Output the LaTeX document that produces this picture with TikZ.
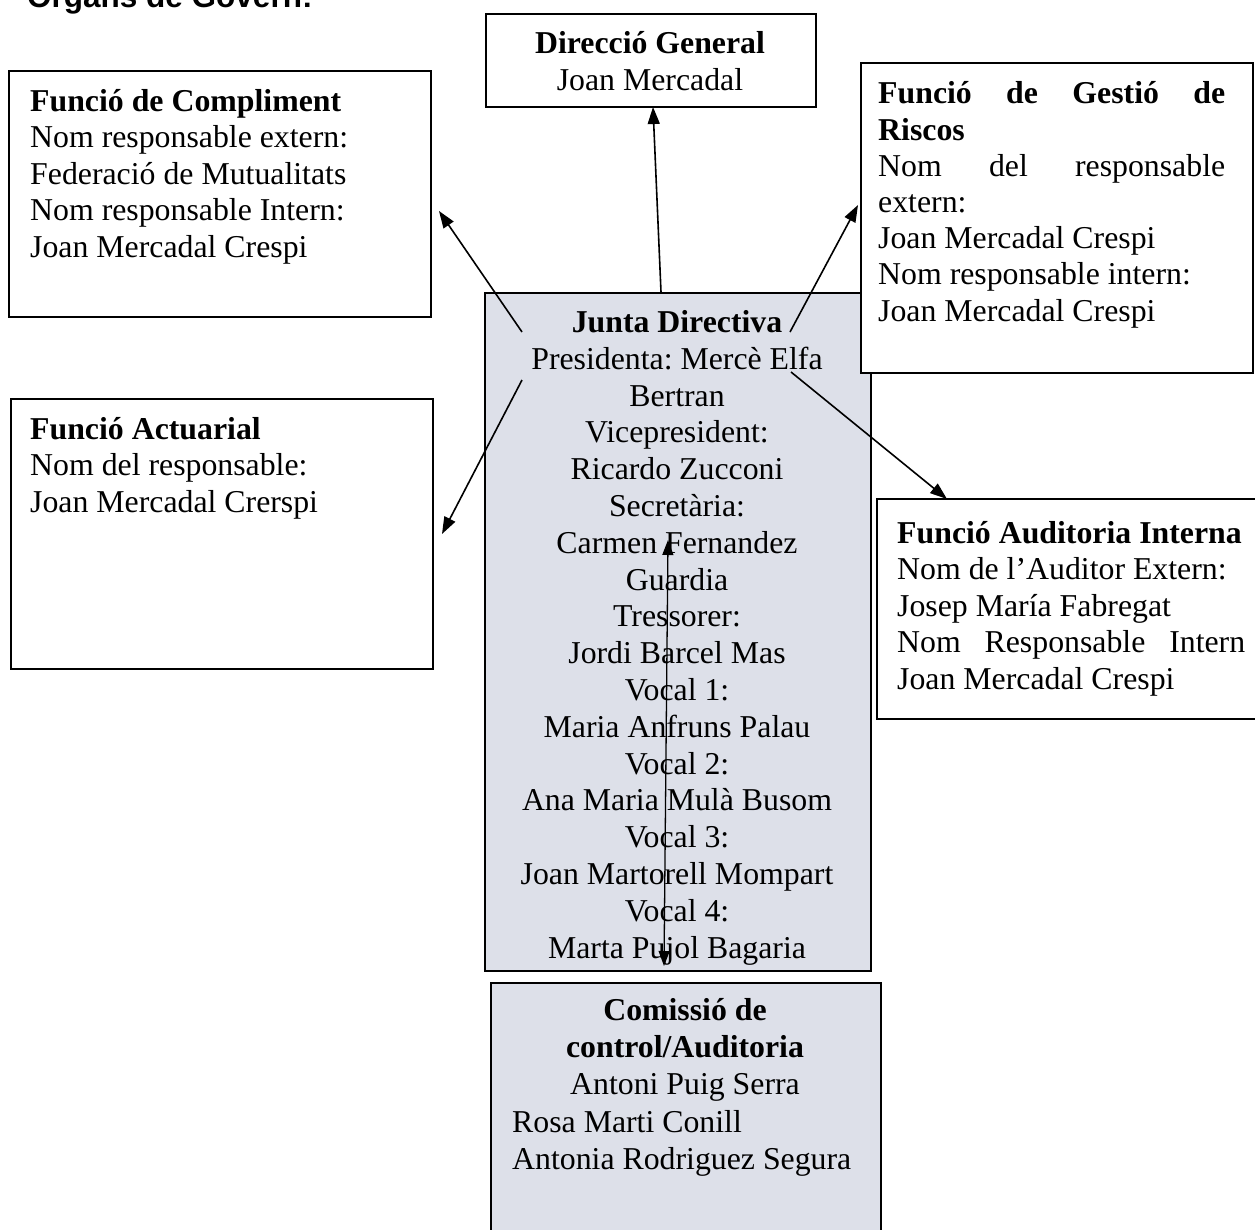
\documentclass[tikz,border=0pt]{standalone}
\usepackage{fontspec}
\setmainfont{Liberation Serif}
\newfontfamily\titlefont{Liberation Sans}
\usetikzlibrary{arrows.meta}
\definecolor{jfill}{RGB}{221,224,233}
\frenchspacing
\begin{document}
\begin{tikzpicture}[x=1pt,y=-1pt,
  box/.style={draw=black, line width=2pt, fill=white, inner sep=0pt, anchor=north west},
  gbox/.style={box, fill=jfill},
  txt/.style={inner sep=0pt, align=left, anchor=base west, font=\fontsize{31.8}{36.4}\selectfont},
  ctxt/.style={inner sep=0pt, align=center, anchor=base, font=\fontsize{31.8}{36.8}\selectfont},
  arr/.style={line width=1.6pt, -{Triangle[length=17pt,width=12pt]}},
  darr/.style={line width=1.3pt, {Triangle[length=15pt,width=11pt]}-{Triangle[length=15pt,width=11pt]}}]
\useasboundingbox (0,0) rectangle (1255,1229);
\fill[white] (0,0) rectangle (1255,1229);

% title (cut at top)
\node[inner sep=0pt, anchor=base west, font=\titlefont\bfseries\fontsize{31.5}{36}\selectfont] (title) at (27,7) {Òrgans de Govern:};

% boxes
\node[box, minimum width=330pt, minimum height=93pt] (dir) at (485,13) {};
\node[box, minimum width=422pt, minimum height=246pt] (compl) at (8,70) {};
\node[box, minimum width=422pt, minimum height=270pt] (act) at (10,398) {};
\node[gbox, minimum width=386pt, minimum height=678pt] (junta) at (484,292) {};
\node[box, minimum width=392pt, minimum height=310pt] (risc) at (860,62) {};
\node[box, minimum width=400pt, minimum height=220pt] (audi) at (876,498) {};
\node[gbox, minimum width=390pt, minimum height=270pt] (comi) at (490,982) {};

% texts (anchor = baseline of last line)
\node[ctxt] (dirt) at (650,90) {\textbf{Direcció General}\\Joan Mercadal};
\node[txt] (complt) at (30,257) {\textbf{Funció de Compliment}\\Nom responsable extern:\\Federació de Mutualitats\\Nom responsable Intern:\\Joan Mercadal Crespi};
\node[txt] (actt) at (30,512) {\textbf{Funció Actuarial}\\Nom del responsable:\\Joan Mercadal Crerspi};
\node[txt, font=\fontsize{31.8}{36.2}\selectfont] (risct) at (878,321) {\hbox to 347pt{\bfseries Funció\hfill de\hfill Gestió\hfill de}\\\textbf{Riscos}\\\hbox to 347pt{Nom\hfill del\hfill responsable}\\extern:\\Joan Mercadal Crespi\\Nom responsable intern:\\Joan Mercadal Crespi};
\node[txt] (audit) at (897,689) {\textbf{Funció Auditoria Interna}\\Nom de l’Auditor Extern:\\Josep María Fabregat\\\hbox to 348pt{Nom\hfill Responsable\hfill Intern}\\Joan Mercadal Crespi};
\node[ctxt] (juntat) at (677,958) {\textbf{Junta Directiva}\\Presidenta: Mercè Elfa\\Bertran\\Vicepresident:\\Ricardo Zucconi\\Secretària:\\Carmen Fernandez\\Guardia\\Tressorer:\\Jordi Barcel Mas\\Vocal 1:\\Maria Anfruns Palau\\Vocal 2:\\Ana Maria Mulà Busom\\Vocal 3:\\Joan Martorell Mompart\\Vocal 4:\\Marta Pujol Bagaria};
\node[ctxt] (comit) at (685,1094) {\textbf{Comissió de}\\\textbf{control/Auditoria}\\Antoni Puig Serra};
\node[txt, font=\fontsize{31.8}{36.8}\selectfont] (comit2) at (512,1169) {Rosa Marti Conill\\Antonia Rodriguez Segura};

% connector end points
\coordinate (a1s) at (661,292);  \coordinate (a1e) at (653,107);
\coordinate (a2s) at (522,332);  \coordinate (a2e) at (439,211);
\coordinate (a3s) at (522,380);  \coordinate (a3e) at (442,534);
\coordinate (a4s) at (790,332);  \coordinate (a4e) at (858,205);
\coordinate (a5s) at (791,372);  \coordinate (a5e) at (947,499);
\coordinate (a6s) at (664,966);  \coordinate (a6e) at (668,540);

\draw[arr] (a1s) -- (a1e);
\draw[arr] (a2s) -- (a2e);
\draw[arr] (a3s) -- (a3e);
\draw[arr] (a4s) -- (a4e);
\draw[arr] (a5s) -- (a5e);
\draw[darr] (a6s) -- (a6e);
\end{tikzpicture}
\end{document}
